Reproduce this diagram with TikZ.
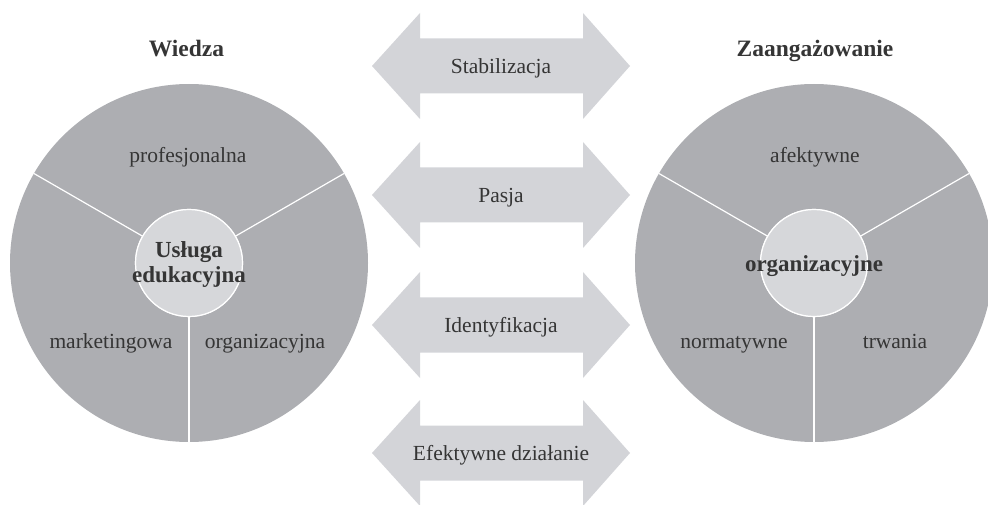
\documentclass[tikz,border=0pt]{standalone}
\usepackage{fontspec}
\setmainfont{Liberation Serif}
\definecolor{outerc}{HTML}{ADAEB2}
\definecolor{innerc}{HTML}{D6D7DA}
\definecolor{arrowc}{HTML}{D3D4D8}
\definecolor{textc}{HTML}{353535}
\tikzset{
  outercirc/.style={circle, fill=outerc, minimum size=358pt, inner sep=0pt, outer sep=0pt},
  innercirc/.style={circle, fill=innerc, draw=white, line width=1.2pt, minimum size=107pt, inner sep=0pt, outer sep=0pt},
  divline/.style={draw=white, line width=1.2pt},
  lbl/.style={text=textc, font=\fontsize{21.5}{24}\selectfont, inner sep=0pt, anchor=base},
  head/.style={text=textc, font=\fontsize{23.5}{26}\selectfont\bfseries, inner sep=0pt, anchor=base},
  centre/.style={text=textc, font=\fontsize{23}{25}\selectfont\bfseries, inner sep=0pt, align=center},
  arrowfill/.style={fill=arrowc}
}
\begin{document}
\begin{tikzpicture}[x=1pt,y=1pt]
\useasboundingbox (0,0) rectangle (988,504);
\clip (0,0) rectangle (988,504);
% left circle
\node[outercirc] (L) at (189,241) {};
\node[innercirc] (Li) at (189,241) {};
\draw[divline] (Li.150) -- (L.150);
\draw[divline] (Li.30) -- (L.30);
\draw[divline] (Li.270) -- (L.270);
\node[innercirc] (Li2) at (189,241) {};
\node[centre] (Lt) at (189,239.5) {Usługa\\edukacyjna};
\node[lbl] (Lp) at (188,341) {profesjonalna};
\node[lbl] (Lm) at (111,156) {marketingowa};
\node[lbl] (Lo) at (265,156) {organizacyjna};
\node[head] (Lh) at (186.5,447) {Wiedza};
% right circle
\node[outercirc] (R) at (814,241) {};
\node[innercirc] (Ri) at (814,241) {};
\draw[divline] (Ri.150) -- (R.150);
\draw[divline] (Ri.30) -- (R.30);
\draw[divline] (Ri.270) -- (R.270);
\node[innercirc] (Ri2) at (814,241) {};
\node[centre, anchor=base] (Rt) at (814,232) {organizacyjne};
\node[lbl] (Ra) at (815,341) {afektywne};
\node[lbl] (Rn) at (734,156) {normatywne};
\node[lbl] (Rtr) at (895,156) {trwania};
\node[head] (Rh) at (815,447) {Zaangażowanie};
% arrows
\foreach \yy/\nm/\txt in {438/a1/Stabilizacja, 309/a2/Pasja, 179/a3/Identyfikacja, 51/a4/Efektywne działanie}{
  \fill[arrowfill] (372,\yy) -- (420,\yy+53) -- (420,\yy+27.5) -- (583,\yy+27.5) -- (583,\yy+53) -- (630,\yy)
     -- (583,\yy-53) -- (583,\yy-27.5) -- (420,\yy-27.5) -- (420,\yy-53) -- cycle;
  \node[lbl] (\nm) at (501,\yy-7.5) {\txt};
}
\end{tikzpicture}
\end{document}
